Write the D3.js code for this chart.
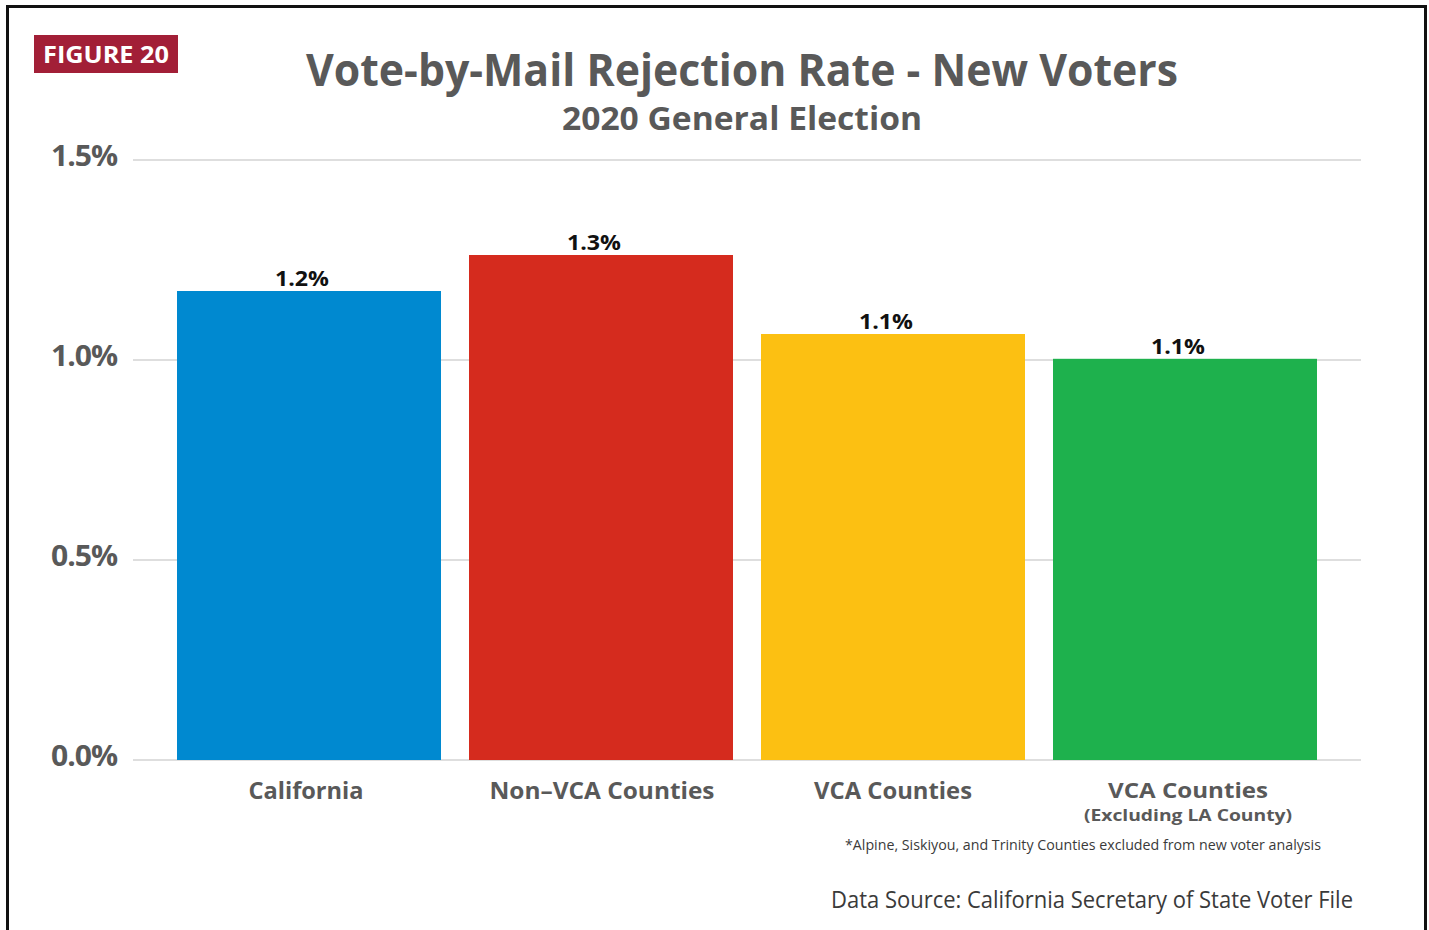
<!DOCTYPE html>
<html><head><meta charset="utf-8">
<script src="https://cdn.jsdelivr.net/npm/d3@7"></script>
<style>
html,body{margin:0;padding:0;background:#fff;}
svg{display:block;font-family:"Open Sans","Noto Sans",sans-serif;}
</style></head>
<body>
<svg id="c" width="1429" height="930"></svg>
<script>
const categories = ["California", "Non\u2013VCA Counties", "VCA Counties", "VCA Counties"];
const subLabels = ["", "", "", "(Excluding LA County)"];
const values = [1.1725, 1.2625, 1.065, 1.003];
const valueLabels = ["1.2%", "1.3%", "1.1%", "1.1%"];
const colors = ["#0089d0", "#d52b1e", "#fcc012", "#1eb14d"];
const yTicks = [0, 0.5, 1.0, 1.5];

const svg = d3.select("#c");
const grey = "#595959";

// frame
svg.append("rect").attr("x", 7.5).attr("y", 6.5).attr("width", 1418).attr("height", 940)
  .attr("fill", "none").attr("stroke", "#111").attr("stroke-width", 3);

// figure tag
svg.append("rect").attr("x", 34).attr("y", 35).attr("width", 144).attr("height", 38).attr("fill", "#a21f37");
svg.append("text").attr("x", 106).attr("y", 63).attr("text-anchor", "middle")
  .attr("fill", "#fff").attr("font-weight", 700).attr("font-size", 24)
  .attr("textLength", 126).attr("lengthAdjust", "spacingAndGlyphs").text("FIGURE 20");

// titles
svg.append("text").attr("x", 742).attr("y", 86).attr("text-anchor", "middle")
  .attr("fill", grey).attr("font-weight", 700).attr("font-size", 44)
  .attr("textLength", 872).attr("lengthAdjust", "spacingAndGlyphs")
  .text("Vote-by-Mail Rejection Rate - New Voters");
svg.append("text").attr("x", 742).attr("y", 130).attr("text-anchor", "middle")
  .attr("fill", grey).attr("font-weight", 700).attr("font-size", 33)
  .attr("textLength", 360).attr("lengthAdjust", "spacingAndGlyphs")
  .text("2020 General Election");

// scales
const x = d3.scaleBand().domain(d3.range(categories.length)).range([133, 1361])
  .paddingInner(28 / 292).paddingOuter(0.1507);
const y = d3.scaleLinear().domain([0, 1.5]).range([760, 160]);

// grid
svg.append("g").selectAll("line").data(yTicks).join("line")
  .attr("x1", 133).attr("x2", 1361)
  .attr("y1", d => y(d)).attr("y2", d => y(d))
  .attr("stroke", "#d3d3d3").attr("stroke-width", 1.5);

// y axis labels
const yAxis = d3.axisLeft(y).tickValues(yTicks).tickFormat(d => d3.format(".1f")(d) + "%").tickSize(0).tickPadding(0);
const ga = svg.append("g").attr("transform", "translate(117,0)").call(yAxis);
ga.select(".domain").remove();
ga.selectAll("text").attr("fill", grey).attr("font-weight", 700).attr("font-size", 29)
  .attr("font-family", "'Open Sans',sans-serif").attr("dy", "0.2em")
  .attr("textLength", 66).attr("lengthAdjust", "spacingAndGlyphs").attr("letter-spacing", -1);

// bars
svg.append("g").selectAll("rect").data(values).join("rect")
  .attr("x", (d, i) => x(i)).attr("width", x.bandwidth())
  .attr("y", d => y(d)).attr("height", d => y(0) - y(d))
  .attr("fill", (d, i) => colors[i]);

// value labels
svg.append("g").selectAll("text").data(values).join("text")
  .attr("x", (d, i) => x(i) + x.bandwidth() / 2 - 7).attr("y", d => y(d) - 5)
  .attr("text-anchor", "middle").attr("fill", "#111").attr("font-weight", 700).attr("font-size", 22)
  .attr("textLength", 54).attr("lengthAdjust", "spacingAndGlyphs")
  .text((d, i) => valueLabels[i]);

// category labels
const catW = [115, 225, 158, 160];
const catDx = [-3, 1, 0, 3];
svg.append("g").selectAll("text").data(categories).join("text")
  .attr("x", (d, i) => x(i) + x.bandwidth() / 2 + catDx[i]).attr("y", (d, i) => i === 3 ? 798 : 799)
  .attr("text-anchor", "middle").attr("fill", grey).attr("font-weight", 700)
  .attr("font-size", (d, i) => i === 3 ? 22 : 24)
  .attr("textLength", (d, i) => catW[i]).attr("lengthAdjust", "spacingAndGlyphs")
  .text(d => d);
svg.append("g").selectAll("text").data(subLabels.filter(s => s)).join("text")
  .attr("x", x(3) + x.bandwidth() / 2 + 3).attr("y", 821)
  .attr("text-anchor", "middle").attr("fill", grey).attr("font-weight", 700).attr("font-size", 16)
  .attr("textLength", 208).attr("lengthAdjust", "spacingAndGlyphs")
  .text(d => d);

// footnotes
svg.append("text").attr("x", 1083).attr("y", 850).attr("text-anchor", "middle")
  .attr("fill", "#3a3a3a").attr("font-size", 15)
  .attr("textLength", 476).attr("lengthAdjust", "spacingAndGlyphs")
  .text("*Alpine, Siskiyou, and Trinity Counties excluded from new voter analysis");
svg.append("text").attr("x", 1092).attr("y", 908).attr("text-anchor", "middle")
  .attr("fill", "#3a3a3a").attr("font-size", 24)
  .attr("textLength", 522).attr("lengthAdjust", "spacingAndGlyphs")
  .text("Data Source: California Secretary of State Voter File");
</script>
</body></html>
